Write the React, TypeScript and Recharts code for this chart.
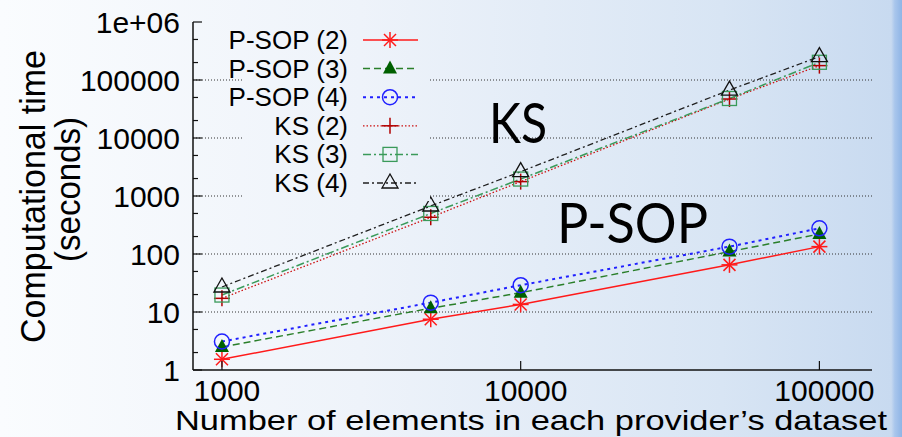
import { LineChart, Line, XAxis, YAxis, ReferenceLine, Legend } from 'recharts'

// dataset sizes (x) and measured times (y, seconds)
const sizes = [1000, 5000, 10000, 50000, 100000]
const psop2 = [1.53, 7.5, 13.5, 65, 134]
const psop3 = [2.5, 11.6, 21.5, 110, 221]
const psop4 = [3.1, 14.5, 29, 134, 277]
const ks2 = [17.2, 430, 1770, 47000, 177000]
const ks3 = [19.6, 500, 1960, 48000, 202000]
const ks4 = [27, 673, 2630, 67000, 253000]

const xTicks = [1000, 10000, 100000]
const xTickLabels = ['1000', '10000', '100000']
const yMajor = [1, 10, 100, 1000, 10000, 100000, 1000000]
const yTickLabels = ['1', '10', '100', '1000', '10000', '100000', '1e+06']
const yMinor = [2, 5, 20, 50, 200, 500, 2000, 5000, 20000, 50000, 200000, 500000]
const gridLines = [10, 100, 1000, 10000, 100000]

const series = [
    { key: 'psop2', name: 'P-SOP (2)', values: psop2, color: '#ff1a1a', dash: undefined, width: 1.5, marker: 'star', mcolor: '#ff1a1a' },
    { key: 'psop3', name: 'P-SOP (3)', values: psop3, color: '#2a7f2a', dash: '7 4', width: 1.5, marker: 'tri', mcolor: '#006000' },
    { key: 'psop4', name: 'P-SOP (4)', values: psop4, color: '#2020ff', dash: '3 4', width: 2, marker: 'circle', mcolor: '#2020ff' },
    { key: 'ks2', name: 'KS (2)', values: ks2, color: '#cc1010', dash: '1.5 2', width: 1.3, marker: 'plus', mcolor: '#b00000' },
    { key: 'ks3', name: 'KS (3)', values: ks3, color: '#3a9a5a', dash: '8 3 2 3', width: 1.5, marker: 'square', mcolor: '#3a9a5a' },
    { key: 'ks4', name: 'KS (4)', values: ks4, color: '#202020', dash: '6 3 2 3', width: 1.3, marker: 'otri', mcolor: '#111111' },
]

const rows = sizes.map((n, i) => {
    const r: any = { n }
    series.forEach(s => { r[s.key] = s.values[i] })
    return r
})

const BG = 'linear-gradient(90deg, #fafcfe 0%, #eef3fa 40%, #d8e5f4 80%, #c8daf0 98.8%, #a9c6ec 99.2%, #8fb5e6 100%)'
const sans = '"Liberation Sans", Arial, Helvetica, sans-serif'

const Marker = ({ shape, color, cx, cy }: any) => {
    if (cx == null || cy == null) return null
    switch (shape) {
        case 'star':
            return (
                <g stroke={color} strokeWidth={1.5}>
                    <line x1={cx} y1={cy - 8} x2={cx} y2={cy + 8} />
                    <line x1={cx - 8} y1={cy} x2={cx + 8} y2={cy} />
                    <line x1={cx - 6} y1={cy - 6} x2={cx + 6} y2={cy + 6} />
                    <line x1={cx - 6} y1={cy + 6} x2={cx + 6} y2={cy - 6} />
                </g>
            )
        case 'tri':
            return <polygon points={`${cx},${cy - 8} ${cx + 7},${cy + 5} ${cx - 7},${cy + 5}`} fill={color} />
        case 'circle':
            return <circle cx={cx} cy={cy} r={7.5} fill="none" stroke={color} strokeWidth={1.5} />
        case 'plus':
            return (
                <g stroke={color} strokeWidth={1.5}>
                    <line x1={cx} y1={cy - 8} x2={cx} y2={cy + 8} />
                    <line x1={cx - 8} y1={cy} x2={cx + 8} y2={cy} />
                </g>
            )
        case 'square':
            return <rect x={cx - 7} y={cy - 7} width={14} height={14} fill="none" stroke={color} strokeWidth={1.3} />
        default:
            return <polygon points={`${cx},${cy - 9} ${cx + 8},${cy + 5} ${cx - 8},${cy + 5}`} fill="none" stroke={color} strokeWidth={1.3} />
    }
}

const LeftTick = (props: any) => {
    const { x, y, payload } = props
    const idx = yMajor.indexOf(payload.value)
    const major = idx >= 0
    return (
        <g>
            <line x1={x} x2={x + (major ? 9 : 5)} y1={y} y2={y} stroke="#111" strokeWidth={1.2} />
            {major && (
                <text x={x - 13} y={y + 10.5} textAnchor="end" fontFamily={sans} fontSize={30} fill="#000">
                    {yTickLabels[idx]}
                </text>
            )}
        </g>
    )
}

const RightTick = (props: any) => {
    const { x, y, payload } = props
    const major = yMajor.includes(payload.value)
    return <line x1={x} x2={x - (major ? 9 : 5)} y1={y} y2={y} stroke="#111" strokeWidth={1.2} />
}

const BottomTick = (props: any) => {
    const { x, y, payload } = props
    const idx = xTicks.indexOf(payload.value)
    return (
        <g>
            <line x1={x} x2={x} y1={y} y2={y - 9} stroke="#111" strokeWidth={1.2} />
            <text x={x + 5} y={y + 30.5} textAnchor="middle" fontFamily={sans} fontSize={30} fill="#000">
                {xTickLabels[idx]}
            </text>
        </g>
    )
}

const TopTick = (props: any) => {
    const { x, y } = props
    return <line x1={x} x2={x} y1={y} y2={y + 9} stroke="#111" strokeWidth={1.2} />
}

// legend wrapper starts at x=200; its opaque part covers x 243..430
const LegendBox = () => {
    const rowY = [17, 45.6, 74.2, 102.8, 131.4, 160]
    return (
        <div style={{ position: 'relative', width: 230, height: 178 }}>
            <div style={{ position: 'absolute', left: 43, top: 0, width: 187, height: 178, background: BG, backgroundSize: '902px 437px', backgroundPosition: '-243px -23px' }} />
            <svg width={230} height={178} style={{ position: 'absolute', left: 0, top: 0, overflow: 'visible' }}>
                {series.map((s, i) => (
                    <g key={s.key}>
                        <text x={148} y={rowY[i] + 9} textAnchor="end" fontFamily={sans} fontSize={26} fill="#000">{s.name}</text>
                        <line x1={163} x2={218} y1={rowY[i]} y2={rowY[i]} stroke={s.color} strokeWidth={s.width} strokeDasharray={s.dash} />
                        <Marker shape={s.marker} color={s.mcolor} cx={190} cy={rowY[i]} />
                    </g>
                ))}
            </svg>
        </div>
    )
}

export default function App() {
    return (
        <div style={{ position: 'relative', width: 902, height: 437, background: BG }}>
            <style>{'body{margin:0}'}</style>
            <LineChart width={902} height={437} data={rows} margin={{ top: 22, right: 30, bottom: 27, left: 133 }}>
                <XAxis dataKey="n" type="number" scale="log" domain={[800, 150000]} allowDataOverflow ticks={xTicks}
                    interval={0} height={40} tickSize={0} tickMargin={0} tick={<BottomTick />} axisLine={{ stroke: '#111', strokeWidth: 1.5 }} />
                <XAxis xAxisId="top" orientation="top" dataKey="n" type="number" scale="log" domain={[800, 150000]} allowDataOverflow ticks={xTicks}
                    interval={0} height={0} tickSize={0} tickMargin={0} tick={<TopTick />} axisLine={{ stroke: '#111', strokeWidth: 1.5 }} />
                <YAxis type="number" scale="log" domain={[1, 1000000]} allowDataOverflow ticks={[...yMajor, ...yMinor]}
                    interval={0} width={60} tickSize={0} tickMargin={0} tick={<LeftTick />} axisLine={{ stroke: '#111', strokeWidth: 1.5 }} />
                <YAxis yAxisId="right" orientation="right" type="number" scale="log" domain={[1, 1000000]} allowDataOverflow ticks={[...yMajor, ...yMinor]}
                    interval={0} width={0} tickSize={0} tickMargin={0} tick={<RightTick />} axisLine={{ stroke: '#111', strokeWidth: 1.5 }} />
                {gridLines.map(g => (
                    <ReferenceLine key={g} y={g} stroke="#333" strokeWidth={1} strokeDasharray="1 2" />
                ))}
                {series.map(s => (
                    <Line key={s.key} dataKey={s.key} name={s.name} type="linear" stroke={s.color} strokeWidth={s.width}
                        strokeDasharray={s.dash} isAnimationActive={false} activeDot={false}
                        dot={(p: any) => <Marker key={`${s.key}-${p.index}`} shape={s.marker} color={s.mcolor} cx={p.cx} cy={p.cy} />} />
                ))}
                <Legend layout="horizontal" verticalAlign="middle" align="center" content={<LegendBox />}
                    wrapperStyle={{ left: 200, top: 23, width: 230, height: 178 }} />
            </LineChart>
            <svg width={902} height={437} style={{ position: 'absolute', left: 0, top: 0, pointerEvents: 'none' }}>
                <text x={489} y={143} fontFamily="Lato, sans-serif" fontSize={56} fill="#000" textLength={58} lengthAdjust="spacingAndGlyphs">KS</text>
                <text x={557} y={243} fontFamily="Lato, sans-serif" fontSize={56} fill="#000" textLength={151} lengthAdjust="spacingAndGlyphs">P-SOP</text>
                <text x={175} y={430} fontFamily={sans} fontSize={28} fill="#000" textLength={712} lengthAdjust="spacingAndGlyphs">
                    Number of elements in each provider’s dataset
                </text>
                <g transform="translate(45,196.5) rotate(-90) scale(1,1.22)">
                    <text x={-146.5} y={0} fontFamily={sans} fontSize={29} fill="#000"
                        textLength={293} lengthAdjust="spacingAndGlyphs">Computational time</text>
                </g>
                <g transform="translate(80,189.5) rotate(-90) scale(1,1.22)">
                    <text x={-72.5} y={0} fontFamily={sans} fontSize={29} fill="#000"
                        textLength={145} lengthAdjust="spacingAndGlyphs">(seconds)</text>
                </g>
            </svg>
        </div>
    )
}
